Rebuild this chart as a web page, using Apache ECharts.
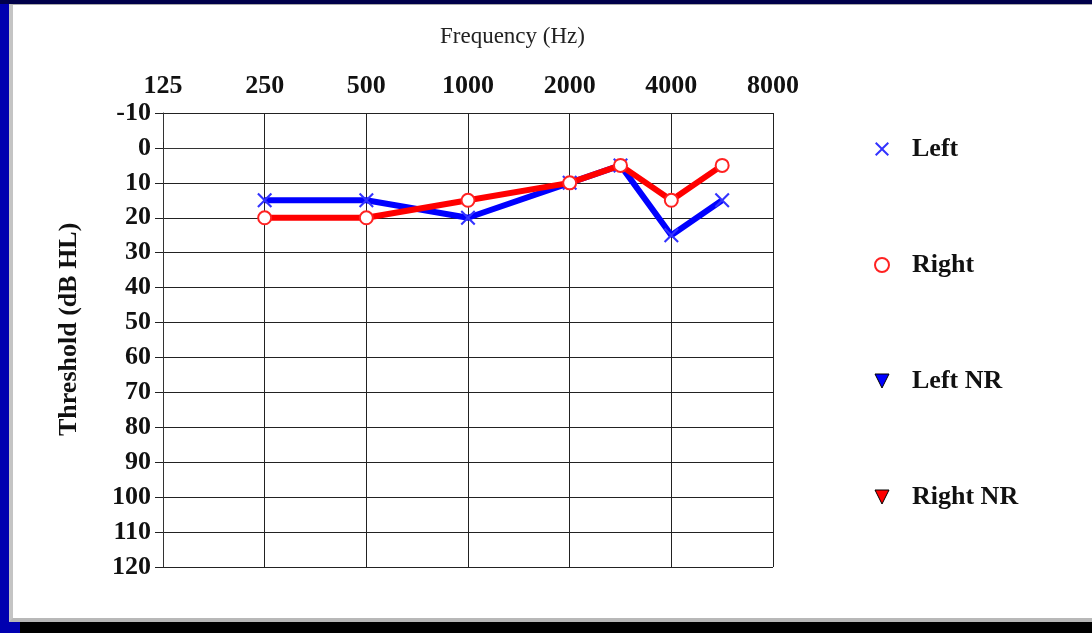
<!DOCTYPE html>
<html>
<head>
<meta charset="utf-8">
<script src="https://cdn.jsdelivr.net/npm/echarts@6/dist/echarts.min.js"></script>
<style>
html,body{margin:0;padding:0;width:1092px;height:633px;overflow:hidden;background:#0000b0;}
#topstrip{position:absolute;left:0;top:0;width:1092px;height:4px;background:#00004a;}
#panel{position:absolute;left:9px;top:4px;width:1083px;height:618px;background:#fff;box-sizing:border-box;border-left:4px solid #c4c4c4;border-top:1px solid #aaa;border-bottom:4px solid #b8b8b8;}
#shadow{position:absolute;left:20px;top:622px;width:1072px;height:11px;background:#000;}
#chart{position:absolute;left:0;top:0;width:1092px;height:633px;}
</style>
</head>
<body>
<div id="topstrip"></div>
<div id="panel"></div>
<div id="shadow"></div>
<div id="chart"></div>
<script>
// Half-octave audiogram slots (only octave labels are shown)
const freqSlots = ['125','177','250','354','500','707','1000','1414','2000','3000','4000','6000','8000'];
const octaveLabels = ['125','250','500','1000','2000','4000','8000'];
const freqs = ['250','500','1000','2000','3000','4000','6000'];
const leftDb = [15,15,20,10,5,25,15];
const rightDb = [20,20,15,10,5,15,5];
const leftNR = [];
const rightNR = [];

const FONT = '"Liberation Serif", "DejaVu Serif", serif';
const xIcon = 'path://M0,1 L1,0 L5,4 L9,0 L10,1 L6,5 L10,9 L9,10 L5,6 L1,10 L0,9 L4,5 Z';
const triIcon = 'path://M0,0 L10,0 L5,10 Z';

const chart = echarts.init(document.getElementById('chart'), null, {renderer:'canvas'});
const isOctave = (i) => octaveLabels.indexOf(freqSlots[i]) >= 0;

chart.setOption({
  backgroundColor: 'transparent',
  animation: false,
  grid: {left:163, right:319, top:113, bottom:66, containLabel:false},
  graphic: [
    {type: 'text', left: 440, top: 25,
     style: {text: 'Frequency (Hz)', font: '23px "Liberation Serif", serif', fill: '#222'}},
    {type: 'text', x: 56, y: 436, rotation: Math.PI / 2,
     style: {text: 'Threshold (dB HL)', font: 'bold 26px "Liberation Serif", serif', fill: '#111', textVerticalAlign: 'top'}}
  ],
  xAxis: {
    type: 'category',
    position: 'top',
    data: freqSlots,
    boundaryGap: false,
    axisLine: {show: true, lineStyle: {color: '#333', width: 1}},
    axisTick: {show: true, length: 6, interval: (i) => isOctave(i), lineStyle: {color: '#222'}},
    axisLabel: {interval: (i) => isOctave(i), fontFamily: FONT, fontSize: 26, fontWeight: 'bold', color: '#111', margin: 14},
    splitLine: {show: true, interval: (i) => isOctave(i), lineStyle: {color: '#222', width: 1}}
  },
  yAxis: {
    type: 'value',
    inverse: true,
    min: -10,
    max: 120,
    interval: 10,
    axisLine: {show: true, lineStyle: {color: '#333', width: 1}},
    axisTick: {show: true, length: 8, lineStyle: {color: '#222'}},
    axisLabel: {fontFamily: FONT, fontSize: 26, fontWeight: 'bold', color: '#111', margin: 12},
    splitLine: {show: true, lineStyle: {color: '#222', width: 1}}
  },
  legend: {
    orient: 'vertical',
    left: 869,
    top: 131,
    itemGap: 90,
    itemWidth: 16,
    itemHeight: 14,
    textStyle: {fontFamily: FONT, fontSize: 26, fontWeight: 'bold', color: '#111', padding: [0,0,0,17]},
    data: [
      {name: 'Left', icon: xIcon, itemStyle: {color: '#3333ff', borderWidth: 0}},
      {name: 'Right', icon: 'emptyCircle', itemStyle: {color: '#ff2222', borderColor: '#ff2222', borderWidth: 1.5}},
      {name: 'Left NR', icon: triIcon, itemStyle: {color: '#0000ff', borderColor: '#000', borderWidth: 1}},
      {name: 'Right NR', icon: triIcon, itemStyle: {color: '#ff0000', borderColor: '#000', borderWidth: 1}}
    ]
  },
  series: [
    {
      name: 'Left', type: 'line',
      data: freqs.map((f, i) => [f, leftDb[i]]),
      symbol: xIcon, symbolSize: 15,
      lineStyle: {color: '#0000ff', width: 6},
      itemStyle: {color: '#3333ff'},
      z: 2
    },
    {
      name: 'Right', type: 'line',
      data: freqs.map((f, i) => [f, rightDb[i]]),
      symbol: 'emptyCircle', symbolSize: 13,
      lineStyle: {color: '#ff0000', width: 6},
      itemStyle: {color: '#ff2222', borderWidth: 1.5},
      z: 3
    },
    {name: 'Left NR', type: 'line', data: leftNR, symbol: triIcon, itemStyle: {color: '#0000ff'}},
    {name: 'Right NR', type: 'line', data: rightNR, symbol: triIcon, itemStyle: {color: '#ff0000'}}
  ]
});
</script>
</body>
</html>
